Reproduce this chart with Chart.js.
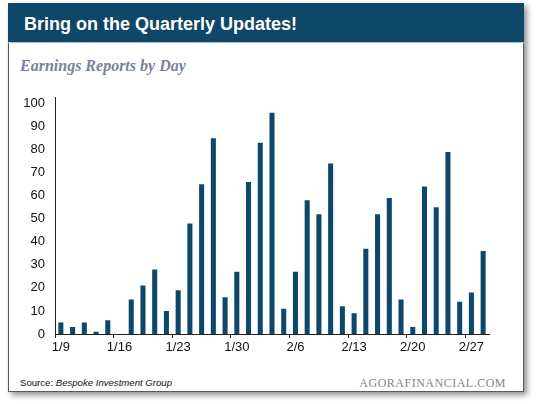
<!DOCTYPE html>
<html>
<head>
<meta charset="utf-8">
<script src="https://cdn.jsdelivr.net/npm/chart.js@4/dist/chart.umd.min.js"></script>
<style>
  html, body { margin: 0; padding: 0; background: #ffffff; }
  body { width: 540px; height: 404px; position: relative; overflow: hidden; font-family: Helvetica, "Liberation Sans", Arial, sans-serif; }
  #card { position: absolute; left: 8px; top: 3px; width: 516px; height: 389px; box-sizing: border-box; border: 1px solid #5a5a5a; background: #fff; box-shadow: 3px 3px 6px rgba(0,0,0,0.45); }
  #header { position: absolute; left: 8px; top: 3px; width: 516px; height: 40px; background: #0e4767; border-bottom: 1px solid #a9c3d6; box-sizing: border-box; }
  #title { position: absolute; left: 24px; top: 4px; height: 40px; line-height: 40px; color: #fff; font-weight: bold; font-size: 18px; white-space: nowrap; }
  #subtitle { position: absolute; left: 20px; top: 56px; line-height: 20px; color: #7a819c; font-family: "Liberation Serif", "DejaVu Serif", serif; font-style: italic; font-weight: bold; font-size: 16px; white-space: nowrap; }
  #source { position: absolute; left: 20px; top: 376px; line-height: 14px; font-size: 9.6px; color: #111; white-space: nowrap; }
  #brand { position: absolute; right: 34px; top: 376px; line-height: 14px; font-family: "Liberation Serif", serif; font-size: 12px; color: #858585; letter-spacing: 0.5px; white-space: nowrap; }
  #wrap { position: absolute; left: 10px; top: 80px; width: 490px; height: 284px; }
</style>
</head>
<body>
<div id="card"></div>
<div id="header"></div>
<div id="title">Bring on the Quarterly Updates!</div>
<div id="subtitle">Earnings Reports by Day</div>
<div id="wrap"><canvas id="c" width="490" height="284"></canvas></div>
<div id="source">Source: <i>Bespoke Investment Group</i></div>
<div id="brand">AGORAFINANCIAL.COM</div>
<script>
const days = ["1/9","1/10","1/11","1/12","1/13",
              "1/16","1/17","1/18","1/19","1/20",
              "1/23","1/24","1/25","1/26","1/27",
              "1/30","1/31","2/1","2/2","2/3",
              "2/6","2/7","2/8","2/9","2/10",
              "2/13","2/14","2/15","2/16","2/17",
              "2/20","2/21","2/22","2/23","2/24",
              "2/27","2/28"];
const reports = [5, 3, 5, 1, 6,
                 0, 15, 21, 28, 10,
                 19, 48, 65, 85, 16,
                 27, 66, 83, 96, 11,
                 27, 58, 52, 74, 12,
                 9, 37, 52, 59, 15,
                 3, 64, 55, 79, 14,
                 18, 36];
const yTicks = [0,10,20,30,40,50,60,70,80,90,100];

const FONT = 'Helvetica, "Liberation Sans", Arial, sans-serif';

new Chart(document.getElementById('c'), {
  type: 'bar',
  data: {
    labels: days,
    datasets: [{
      data: reports,
      backgroundColor: '#0d4769',
      borderWidth: 0,
      barPercentage: 0.43,
      categoryPercentage: 1.0
    }]
  },
  options: {
    responsive: false,
    animation: false,
    devicePixelRatio: 1,
    layout: { padding: { left: 0, right: 11, top: 15, bottom: 0 } },
    plugins: { legend: { display: false }, tooltip: { enabled: false }, title: { display: false } },
    scales: {
      x: {
        offset: true,
        afterFit: s => { s.height = 30; },
        border: { display: true, color: '#222', width: 1 },
        grid: {
          display: true,
          offset: true,
          drawOnChartArea: false,
          drawTicks: true,
          tickLength: 4,
          color: ctx => (ctx.index % 5 === 0) ? '#222' : 'rgba(0,0,0,0)'
        },
        ticks: {
          autoSkip: false,
          maxRotation: 0,
          minRotation: 0,
          padding: 2,
          color: '#111',
          font: { family: FONT, size: 13 },
          callback: function(v, i) { return (i % 5 === 0) ? days[i] : ''; }
        }
      },
      y: {
        min: 0,
        max: 102.5,
        afterFit: s => { s.width = 45; },
        afterBuildTicks: s => { s.ticks = yTicks.map(v => ({ value: v })); },
        border: { display: true, color: '#222', width: 1 },
        grid: { display: false, drawTicks: false },
        ticks: {
          padding: 10,
          color: '#111',
          font: { family: FONT, size: 13 }
        }
      }
    }
  }
});
</script>
</body>
</html>
